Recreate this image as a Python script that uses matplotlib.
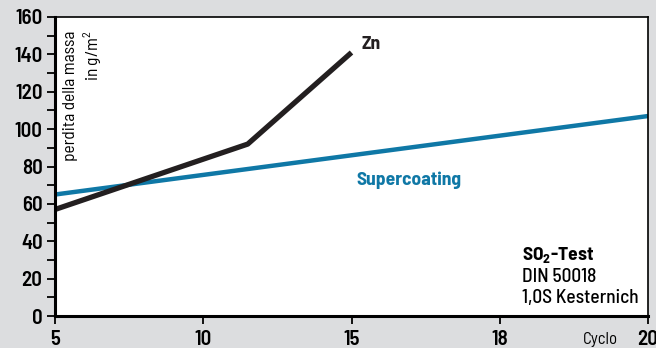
import matplotlib
matplotlib.use("Agg")
import matplotlib.pyplot as plt

# valori (asse x: posizione del ciclo sull'asse)
cyc_zn = [5, 11.5, 15]
zn = [57, 92, 141]
cyc_sc = [5, 25]
supercoating = [65, 107]

xticks = [5, 10, 15, 20, 25]
xlabels = ["5", "10", "15", "18", "20"]
yticks = list(range(0, 161, 20))

FONT = 'Barlow Semi Condensed'
plt.rcParams['font.family'] = [FONT, 'DejaVu Sans']
plt.rcParams['mathtext.fontset'] = 'custom'
plt.rcParams['mathtext.rm'] = FONT
plt.rcParams['mathtext.bf'] = FONT + ':bold'

fig = plt.figure(figsize=(6.56, 3.48), dpi=100, facecolor="#dcdddf")
ax = fig.add_axes([55 / 656, 32 / 348, 593 / 656, 299 / 348])
ax.set_facecolor("white")

ax.plot(cyc_sc, supercoating, color="#0f78a6", lw=3.2, solid_capstyle="butt")
ax.plot(cyc_zn, zn, color="#231f20", lw=3.8, solid_capstyle="butt")

ax.set_xlim(5, 25)
ax.set_ylim(0, 160)
ax.set_xticks(xticks)
ax.set_xticklabels(xlabels)
ax.set_yticks(yticks)
ax.set_yticks(range(10, 160, 20), minor=True)
ax.tick_params(axis="both", which="major", direction="out", length=6, width=1.3,
               labelsize=15)
ax.tick_params(axis="x", which="major", pad=4)
ax.tick_params(axis="y", which="major", pad=3)
ax.tick_params(axis="y", which="minor", direction="out", length=6, width=1.3)
for lab in ax.get_xticklabels() + ax.get_yticklabels():
    lab.set_fontweight(600)

for side in ["left", "bottom"]:
    ax.spines[side].set_linewidth(2.2)
for side in ["top", "right"]:
    ax.spines[side].set_linewidth(1.2)

ax.text(0.92, -0.055, "Cyclo", transform=ax.transAxes, fontsize=12,
        ha="center", va="top")

ax.text(0.013, 0.955, "perdita della massa\nin g/m$^2$", transform=ax.transAxes,
        rotation=90, fontsize=12.5, ha="left", va="top", multialignment="right",
        linespacing=1.25)

ax.text(15.35, 145.5, "Zn", fontsize=14, fontweight="bold", color="#231f20",
        va="center")
ax.text(15.15, 72.8, "Supercoating", fontsize=14, fontweight="bold", color="#0f78a6",
        va="center")

ax.text(0.787, 0.204, r"$\mathbf{SO_2}$-Test", transform=ax.transAxes, fontsize=14,
        fontweight="bold", va="center")
ax.text(0.787, 0.13, "DIN 50018", transform=ax.transAxes, fontsize=14,
        fontweight=500, va="center")
ax.text(0.787, 0.06, "1,0S Kesternich", transform=ax.transAxes, fontsize=14,
        fontweight=500, va="center")

plt.savefig("out.png", dpi=100, facecolor=fig.get_facecolor())
